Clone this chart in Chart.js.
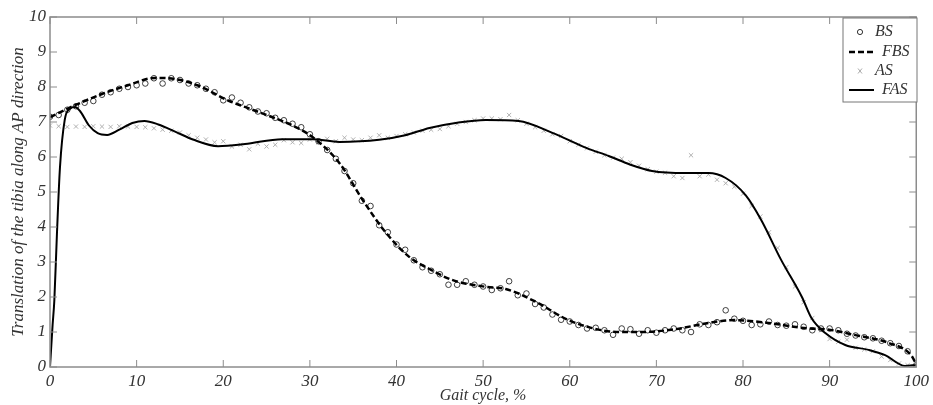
<!DOCTYPE html>
<html>
<head>
<meta charset="utf-8">
<script src="https://cdn.jsdelivr.net/npm/chart.js@4.4.1/dist/chart.umd.min.js"></script>
<style>
  html, body { margin: 0; padding: 0; background: #fff; }
  #wrap { width: 933px; height: 405px; }
</style>
</head>
<body>
<div id="wrap"><canvas id="gaitChart" width="933" height="405"></canvas></div>
<script>
// raw measurements, one per % of gait cycle (0..100)
const bsValues = [7.15, 7.2, 7.35, 7.45, 7.55, 7.6, 7.78, 7.85, 7.95, 8.0,
    8.05, 8.1, 8.25, 8.1, 8.25, 8.2, 8.1, 8.05, 7.95, 7.85,
    7.62, 7.7, 7.55, 7.42, 7.3, 7.25, 7.12, 7.05, 6.95, 6.85,
    6.65, 6.45, 6.2, 5.95, 5.6, 5.25, 4.75, 4.6, 4.05, 3.85,
    3.5, 3.35, 3.05, 2.85, 2.75, 2.65, 2.35, 2.35, 2.45, 2.35,
    2.3, 2.2, 2.25, 2.45, 2.05, 2.1, 1.8, 1.7, 1.5, 1.35,
    1.3, 1.2, 1.1, 1.12, 1.05, 0.92, 1.1, 1.08, 0.95, 1.05,
    0.98, 1.05, 1.1, 1.05, 1.0, 1.22, 1.2, 1.28, 1.62, 1.38,
    1.32, 1.2, 1.22, 1.3, 1.2, 1.18, 1.22, 1.15, 1.05, 1.1,
    1.1, 1.05, 0.95, 0.9, 0.85, 0.82, 0.75, 0.68, 0.6, 0.45,
    0.05];

const asValues = [6.9, 6.88, 6.86, 6.87, 6.86, 6.88, 6.87, 6.86, 6.88, 6.87,
    6.86, 6.85, 6.82, 6.78, 6.75, 6.7, 6.62, 6.55, 6.5, 6.42,
    6.45, 6.3, 6.35, 6.22, 6.38, 6.3, 6.35, 6.48, 6.42, 6.4,
    6.5, 6.42, 6.52, 6.45, 6.55, 6.5, 6.48, 6.55, 6.62, 6.55,
    6.6, 6.65, 6.7, 6.75, 6.78, 6.8, 6.88, 6.95, 7.0, 7.05,
    7.1, 7.1, 7.08, 7.2, 7.05, 6.95, 6.85, 6.75, 6.65, 6.6,
    6.45, 6.35, 6.25, 6.15, 6.05, 5.98, 5.95, 5.85, 5.75, 5.65,
    5.58, 5.55, 5.45, 5.4, 6.05, 5.45, 5.5, 5.35, 5.25, 5.15,
    4.95, 4.6, 4.3, 3.85, 3.4, 2.85, 2.3, 1.85, 1.4, 1.05,
    0.8, 0.72, 0.78, 0.55, 0.5, 0.45, 0.3, 0.2, 0.1, 0.05,
    0.1];

// fitted curves (gait %, value)
const fbsX = [0, 2.9, 6, 9, 12.1, 14.4, 17, 20.7, 22.5, 25, 28, 30.3, 33.4, 36.1, 38.8,
    41.5, 43.8, 46.4, 50.3, 52.6, 56.1, 59.6, 62.6, 65.7, 68.3, 72.2, 76, 79.1,
    82.9, 87.6, 89.5, 93, 96.8, 99.4, 100];
const fbsY = [7.14, 7.48, 7.8, 8.05, 8.26, 8.23, 8.05, 7.6, 7.43, 7.2, 6.9, 6.57, 5.83, 4.77, 3.83,
    3.14, 2.8, 2.49, 2.29, 2.23, 1.86, 1.37, 1.11, 1.0, 1.0, 1.08, 1.26, 1.34,
    1.26, 1.1, 1.08, 0.91, 0.69, 0.34, 0.08];

const fasX = [0, 0.3, 0.5, 0.8, 1.15, 1.7, 2.3, 2.9, 3.5, 4.5, 5.5, 6.6, 8, 9.5, 10.9,
    12.5, 14.5, 16.5, 19.4, 22.5, 26.8, 30.3, 33.4, 38, 41, 43.8, 47, 50.3, 54.1,
    58, 61.9, 64.5, 67, 69.5, 73.4, 76, 78, 80.3, 82.1, 84.4, 86.8, 87.9, 89.5,
    91.8, 94.5, 96.4, 98.7, 100];
const fasY = [0, 1.2, 1.9, 3.8, 5.7, 7.06, 7.38, 7.43, 7.3, 6.9, 6.68, 6.63, 6.78, 6.97, 7.03,
    6.93, 6.72, 6.5, 6.31, 6.37, 6.51, 6.51, 6.43, 6.49, 6.62, 6.83, 6.98, 7.06, 7.03,
    6.69, 6.26, 6.03, 5.78, 5.6, 5.54, 5.54, 5.4, 4.91, 4.2, 3.06, 2.0, 1.4, 0.97,
    0.63, 0.49, 0.34, 0.03, 0.06];

const xTicks = [0, 10, 20, 30, 40, 50, 60, 70, 80, 90, 100];
const yTicks = [0, 1, 2, 3, 4, 5, 6, 7, 8, 9, 10];

const serif = '"Liberation Serif", "DejaVu Serif", serif';
const textColor = '#333';
const frameColor = '#8c8c8c';

const toPoints = (xs, ys) => xs.map((x, i) => ({ x: x, y: ys[i] }));

// frame, inward ticks and legend box
const framePlugin = {
    id: 'frame',
    afterDatasetsDraw(chart) {
        const ctx = chart.ctx;
        const a = chart.chartArea;
        const xs = chart.scales.x;
        const ys = chart.scales.y;
        ctx.save();
        ctx.strokeStyle = frameColor;
        ctx.lineWidth = 1.5;
        ctx.strokeRect(a.left, a.top, a.right - a.left, a.bottom - a.top);
        ctx.lineWidth = 1;
        ctx.beginPath();
        xTicks.forEach(t => {
            const px = xs.getPixelForValue(t);
            ctx.moveTo(px, a.bottom); ctx.lineTo(px, a.bottom - 7);
            ctx.moveTo(px, a.top); ctx.lineTo(px, a.top + 7);
        });
        yTicks.forEach(t => {
            const py = ys.getPixelForValue(t);
            ctx.moveTo(a.left, py); ctx.lineTo(a.left + 7, py);
            ctx.moveTo(a.right, py); ctx.lineTo(a.right - 7, py);
        });
        ctx.stroke();

        // legend
        const lx = 843, ly = 18, lw = 74, lh = 84;
        ctx.fillStyle = '#fff';
        ctx.fillRect(lx, ly, lw, lh);
        ctx.strokeStyle = '#777';
        ctx.lineWidth = 1;
        ctx.strokeRect(lx, ly, lw, lh);

        const rows = [32, 52, 71, 90];
        const labels = ['BS', 'FBS', 'AS', 'FAS'];
        ctx.font = 'italic 16px ' + serif;
        ctx.fillStyle = textColor;
        ctx.textBaseline = 'middle';
        labels.forEach((l, i) => ctx.fillText(l, i % 2 ? 882 : 875, rows[i]));

        ctx.strokeStyle = '#000';
        ctx.beginPath();
        ctx.arc(860, rows[0], 2.6, 0, Math.PI * 2);
        ctx.lineWidth = 0.8;
        ctx.stroke();

        ctx.lineWidth = 2.5;
        ctx.setLineDash([6, 3]);
        ctx.beginPath();
        ctx.moveTo(849, rows[1]); ctx.lineTo(874, rows[1]);
        ctx.stroke();
        ctx.setLineDash([]);

        ctx.strokeStyle = '#aaa';
        ctx.lineWidth = 1;
        ctx.beginPath();
        ctx.moveTo(858, rows[2] - 2.5); ctx.lineTo(862, rows[2] + 2.5);
        ctx.moveTo(862, rows[2] - 2.5); ctx.lineTo(858, rows[2] + 2.5);
        ctx.stroke();

        ctx.strokeStyle = '#000';
        ctx.lineWidth = 2;
        ctx.beginPath();
        ctx.moveTo(849, rows[3]); ctx.lineTo(874, rows[3]);
        ctx.stroke();
        ctx.restore();
    }
};

const ctx = document.getElementById('gaitChart').getContext('2d');
new Chart(ctx, {
    type: 'scatter',
    data: {
        datasets: [{
            label: 'BS',
            data: bsValues.map((v, i) => ({ x: i, y: v })),
            pointStyle: 'circle',
            pointRadius: 2.8,
            pointBorderWidth: 0.8,
            pointBorderColor: '#111',
            pointBackgroundColor: 'rgba(255,255,255,0)',
            order: 3
        }, {
            label: 'FBS',
            data: toPoints(fbsX, fbsY),
            showLine: true,
            borderColor: '#000',
            borderWidth: 2.5,
            borderDash: [6, 3],
            pointRadius: 0,
            cubicInterpolationMode: 'monotone',
            order: 1
        }, {
            label: 'AS',
            data: asValues.map((v, i) => ({ x: i, y: v })),
            pointStyle: 'crossRot',
            pointRadius: 3,
            pointBorderWidth: 0.9,
            pointBorderColor: '#a8a8a8',
            order: 4
        }, {
            label: 'FAS',
            data: toPoints(fasX, fasY),
            showLine: true,
            borderColor: '#000',
            borderWidth: 2,
            pointRadius: 0,
            cubicInterpolationMode: 'monotone',
            order: 2
        }]
    },
    options: {
        responsive: false,
        animation: false,
        layout: { padding: { left: 8, right: 15, top: 17, bottom: 0 } },
        plugins: {
            legend: { display: false },
            tooltip: { enabled: false }
        },
        scales: {
            x: {
                type: 'linear',
                min: 0,
                max: 100,
                afterFit: s => { s.height = 38; },
                afterBuildTicks: s => { s.ticks = xTicks.map(v => ({ value: v })); },
                grid: { display: false, drawTicks: false },
                border: { display: false },
                ticks: {
                    padding: 4,
                    color: textColor,
                    font: { family: serif, style: 'italic', size: 17 }
                },
                title: {
                    display: true,
                    text: 'Gait cycle, %',
                    color: textColor,
                    padding: { top: -4, bottom: 0 },
                    font: { family: serif, style: 'italic', size: 16 }
                }
            },
            y: {
                min: 0,
                max: 10,
                afterFit: s => { s.width = 42; },
                afterBuildTicks: s => { s.ticks = yTicks.map(v => ({ value: v })); },
                grid: { display: false, drawTicks: false },
                border: { display: false },
                ticks: {
                    padding: 4,
                    color: textColor,
                    font: { family: serif, style: 'italic', size: 17 }
                },
                title: {
                    display: true,
                    text: 'Translation of the tibia along AP direction',
                    color: textColor,
                    padding: { top: 0, bottom: 0 },
                    font: { family: serif, style: 'italic', size: 17 }
                }
            }
        }
    },
    plugins: [framePlugin]
});
</script>
</body>
</html>
